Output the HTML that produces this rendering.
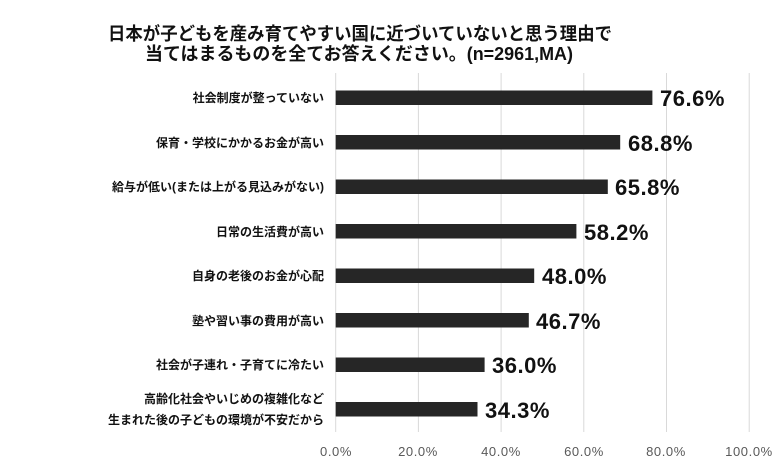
<!DOCTYPE html>
<html><head><meta charset="utf-8"><style>
body{margin:0;background:#fff;}
svg text{font-family:"Liberation Sans","Noto Sans CJK JP",sans-serif;}
</style></head><body>
<svg width="780" height="467" xmlns="http://www.w3.org/2000/svg">
<rect width="780" height="467" fill="#fff"/>
<g font-weight="bold" font-size="18" text-anchor="middle" fill="#111">
<text x="360" y="40" textLength="504" lengthAdjust="spacingAndGlyphs">日本が子どもを産み育てやすい国に近づいていないと思う理由で</text>
<text x="359" y="60" textLength="428" lengthAdjust="spacingAndGlyphs">当てはまるものを全てお答えください。(n=2961,MA)</text>
</g>
<g stroke="#d9d9d9" stroke-width="1">
<line x1="335.7" y1="73" x2="335.7" y2="432"/>
<line x1="418.4" y1="73" x2="418.4" y2="432"/>
<line x1="501.1" y1="73" x2="501.1" y2="432"/>
<line x1="583.8" y1="73" x2="583.8" y2="432"/>
<line x1="666.5" y1="73" x2="666.5" y2="432"/>
<line x1="749.2" y1="73" x2="749.2" y2="432"/>
</g>
<g font-size="13" fill="#595959" text-anchor="middle" letter-spacing="0.6">
<text x="336" y="456">0.0%</text><text x="418" y="456">20.0%</text><text x="501" y="456">40.0%</text>
<text x="584" y="456">60.0%</text><text x="666" y="456">80.0%</text><text x="749" y="456">100.0%</text>
</g>
<g fill="#262626">
<rect x="335.7" y="90.5" width="316.7" height="14.5"/>
<rect x="335.7" y="135" width="284.5" height="14.5"/>
<rect x="335.7" y="179.5" width="272.1" height="14.5"/>
<rect x="335.7" y="224" width="240.7" height="14.5"/>
<rect x="335.7" y="268.5" width="198.5" height="14.5"/>
<rect x="335.7" y="313" width="193.1" height="14.5"/>
<rect x="335.7" y="357.5" width="148.9" height="14.5"/>
<rect x="335.7" y="402" width="141.8" height="14.5"/>
</g>
<g font-size="22" font-weight="bold" fill="#111" letter-spacing="0.5">
<text x="660" y="106">76.6%</text>
<text x="628" y="151">68.8%</text>
<text x="615" y="195">65.8%</text>
<text x="584" y="240">58.2%</text>
<text x="542" y="284">48.0%</text>
<text x="536" y="329">46.7%</text>
<text x="492" y="373">36.0%</text>
<text x="485" y="418">34.3%</text>
</g>
<g font-size="12" font-weight="bold" fill="#111" text-anchor="end">
<text x="324" y="102">社会制度が整っていない</text>
<text x="324" y="147">保育・学校にかかるお金が高い</text>
<text x="324" y="191">給与が低い(または上がる見込みがない)</text>
<text x="324" y="236">日常の生活費が高い</text>
<text x="324" y="280">自身の老後のお金が心配</text>
<text x="324" y="325">塾や習い事の費用が高い</text>
<text x="324" y="369">社会が子連れ・子育てに冷たい</text>
<text x="324" y="403">高齢化社会やいじめの複雑化など</text>
<text x="324" y="424">生まれた後の子どもの環境が不安だから</text>
</g>
</svg>
</body></html>
